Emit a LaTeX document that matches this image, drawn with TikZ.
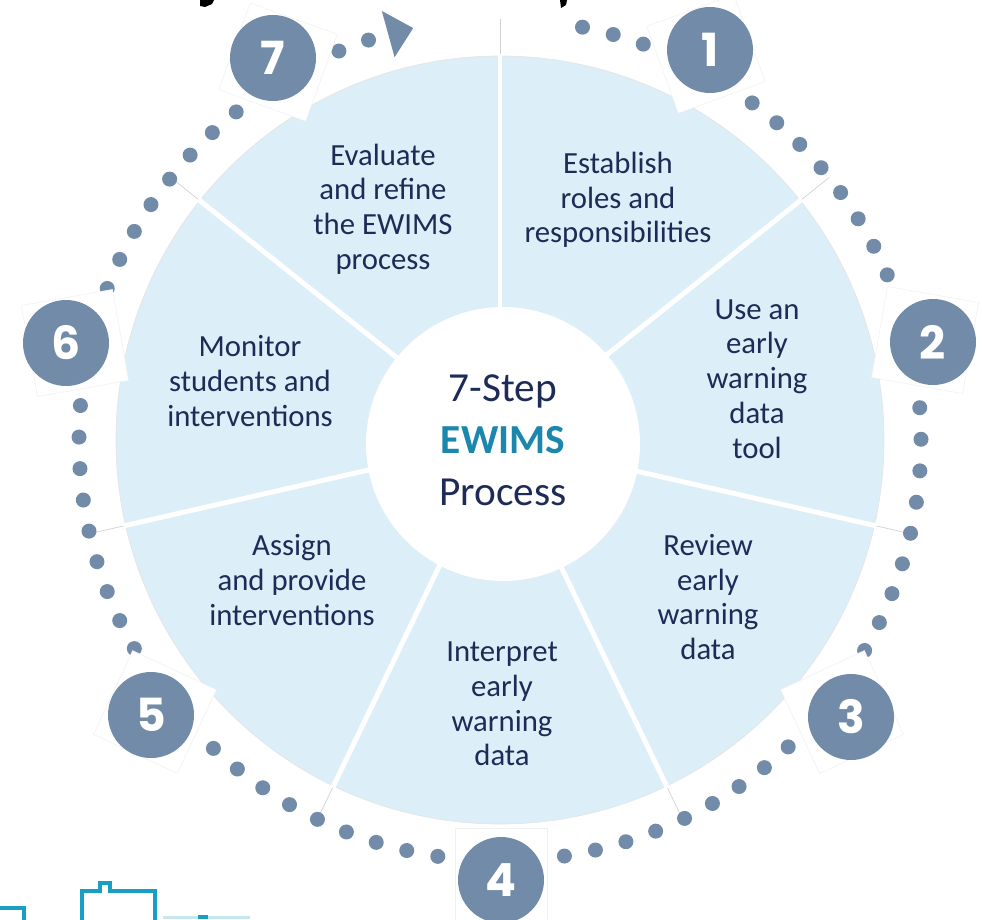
\documentclass[tikz,border=0pt]{standalone}
\usepackage{fontspec}
\setmainfont{Carlito}
\newfontfamily\numfont{Poppins}
\usetikzlibrary{calc}
\definecolor{piefill}{HTML}{DCEEF7}
\definecolor{dotc}{HTML}{718BA8}
\definecolor{navy}{HTML}{1E2B57}
\definecolor{ewteal}{HTML}{1B87AD}
\definecolor{cyanl}{HTML}{1A9FC4}
\begin{document}
\begin{tikzpicture}[x=0.02cm,y=0.02cm,
  seg/.style={text=navy, font=\fontsize{17.5}{19.8}\selectfont, align=center, inner sep=0pt},
  hubtext/.style={text=navy, font=\fontsize{23.5}{29.5}\selectfont, align=center, inner sep=0pt},
  numc/.style={circle, fill=dotc, text=white, minimum size=1.72cm, inner sep=0pt,
    font=\numfont\bfseries\fontsize{26}{26}\selectfont},
  backpoly/.style={draw=black!6, line width=0.3pt, fill=white, minimum size=1.85cm, inner sep=0pt},
  divider/.style={white, line width=2.8pt},
  divext/.style={black!18, line width=0.4pt},
  cyanline/.style={cyanl, line width=1.8pt},
  dot/.style={fill=dotc}]
\useasboundingbox (0,0) rectangle (982,-919);
\coordinate (C) at (500,-440);

% pie
\fill[piefill] (C) circle [radius=384];
\draw[black!10, line width=0.4pt] (C) circle [radius=384];

% dividers
\foreach \a in {90,38.57,-12.86,-64.29,-115.71,-167.14,141.43}{
  \draw[divext] ($(C)+(\a:384)$) -- ($(C)+(\a:421)$);
  \draw[divider] (C) -- ($(C)+(\a:386)$);
}

% hub
\node[circle, fill=white, minimum size=5.48cm, inner sep=0pt] (hub) at (503,-444) {};
\node[hubtext] (hubt) at (503,-440) {7-Step\\{\bfseries\color{ewteal}EWIMS}\\Process};

% segment texts
\node[seg] (s1) at (618,-200) {Establish\\roles and\\responsibilities};
\node[seg] (s2) at (757,-379) {Use an\\early\\warning\\data\\tool};
\node[seg] (s3) at (708,-597) {Review\\early\\warning\\data};
\node[seg] (s4) at (502,-704) {Interpret\\early\\warning\\data};
\node[seg] (s5) at (292,-580) {Assign\\and provide\\interventions};
\node[seg] (s6) at (250,-381) {Monitor\\students and\\interventions};
\node[seg] (s7) at (383,-209) {Evaluate\\and refine\\the EWIMS\\process};

% dots
\foreach \a/\n in {78.7/3, 53.2/8, 4.4/9, -46.8/9, -98.5/9, -150.3/9, 158.9/8, 112.5/2}{
  \foreach \i in {1,...,\n}{
    \fill[dot] ($(C)+({\a-4.3*(\i-1)}:421)$) circle [radius=7.5];
  }
}
% arrow head
\fill[dotc] ($(C)+(101.9:421)$) -- ($(C)+(105.4:445)$) -- ($(C)+(105.4:397)$) -- cycle;

% cyan fragments at bottom
\draw[cyanline] (0,-908) -- (24,-908) -- (24,-921);
\draw[cyanline] (82,-921) -- (82,-891) -- (100,-891) -- (100,-883) -- (110,-883) -- (110,-891) -- (155,-891) -- (155,-921);
\fill[cyanl!25] (163,-916) rectangle (250,-919);
\fill[cyanl] (198,-915) rectangle (208,-919);
\draw[cyanline] (462,-921) -- (473,-905);

% black fragments at top
\fill[black] (200,0) -- (214,0) -- (212,-4) -- (205,-7) -- (200,-6) -- cycle;
\fill[black] (560,0) -- (567,0) -- (566,-5) -- (561,-8) -- cycle;

% background polygons and number circles
\node[backpoly, rotate=20]  (p1) at (706,-54) {};
\node[backpoly, rotate=-10] (p2) at (925,-340) {};
\node[backpoly, rotate=25]  (p3) at (842,-712) {};
\node[backpoly, rotate=0]   (p4) at (501,-874) {};
\node[backpoly, rotate=-25] (p5) at (155,-712) {};
\node[backpoly, rotate=10]  (p6) at (75,-343) {};
\node[backpoly, rotate=-20] (p7) at (278,-62) {};

\node[numc] (n1) at (710,-50) {1};
\node[numc] (n2) at (933,-342) {2};
\node[numc] (n3) at (851,-717) {3};
\node[numc] (n4) at (501,-880) {4};
\node[numc] (n5) at (151,-715) {5};
\node[numc] (n6) at (66,-343) {6};
\node[numc] (n7) at (273,-58) {7};
\end{tikzpicture}
\end{document}
